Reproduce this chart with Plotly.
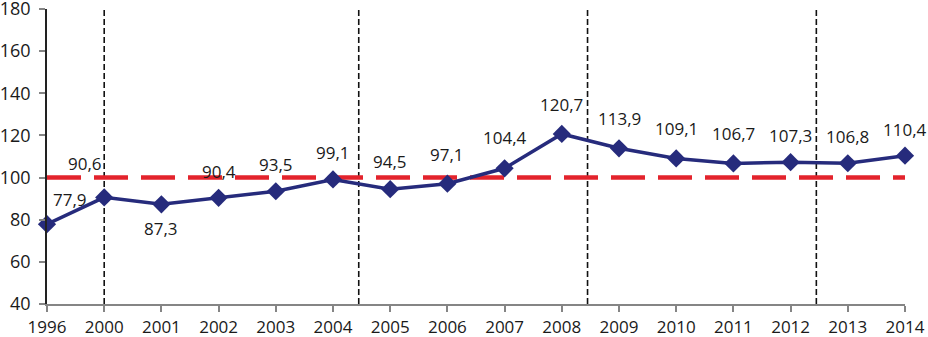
import plotly.graph_objects as go

years = ["1996", "2000", "2001", "2002", "2003", "2004", "2005", "2006",
         "2007", "2008", "2009", "2010", "2011", "2012", "2013", "2014"]
values = [77.9, 90.6, 87.3, 90.4, 93.5, 99.1, 94.5, 97.1,
          104.4, 120.7, 113.9, 109.1, 106.7, 107.3, 106.8, 110.4]
reference_level = 100
period_breaks = [1, 5.45, 9.45, 13.45]
y_ticks = [40, 60, 80, 100, 120, 140, 160, 180]

# label offsets (pixels) for data labels
label_dx = [23, -19, 0, 0, 0, 0, 0, 0, 0, 0, 0, 0, 0, 0, 0, 0]
label_dy = [25, 34, -24, 26, 27, 27, 28, 29, 31, 29, 30, 30, 30, 27, 27, 26]

FONT = "'Open Sans', sans-serif"
NAVY = "#262B7C"
RED = "#E3232C"
TXT = "#1a1a1a"

x = list(range(len(years)))

fig = go.Figure()
fig.add_trace(go.Scatter(
    x=x, y=values, mode="lines+markers",
    line=dict(color=NAVY, width=3.5),
    marker=dict(symbol="diamond", size=14, color=NAVY),
    cliponaxis=False, showlegend=False, hoverinfo="skip",
))

# reference line at 100
fig.add_shape(type="line", xref="x", yref="y", x0=0, x1=len(years) - 1,
              y0=reference_level, y1=reference_level,
              line=dict(color=RED, width=4.5, dash="34px,13px"), layer="below")

for b in period_breaks:
    fig.add_shape(type="line", xref="x", yref="paper", x0=b, x1=b, y0=0, y1=1,
                  line=dict(color="#111111", width=1.6, dash="6px,3px"), layer="below")

annotations = []
for i, v in enumerate(values):
    annotations.append(dict(
        x=i, y=v, xref="x", yref="y",
        text=f"{v:.1f}".replace(".", ","),
        showarrow=False, xanchor="center", yanchor="middle",
        xshift=label_dx[i], yshift=label_dy[i],
        font=dict(family=FONT, size=17, color=TXT),
    ))

fig.update_layout(
    width=928, height=337,
    margin=dict(l=47, r=23, t=9, b=33, autoexpand=False),
    paper_bgcolor="white", plot_bgcolor="white",
    annotations=annotations,
    font=dict(family=FONT, size=17, color=TXT),
    xaxis=dict(
        range=[0, len(years) - 1], tickmode="array", tickvals=x, ticktext=years,
        showgrid=False, zeroline=False, showline=True, linecolor="#858585", linewidth=1.5,
        ticks="outside", ticklen=6, tickcolor="#858585", tickwidth=1.5,
        tickfont=dict(family=FONT, size=17, color=TXT),
        automargin=False, ticklabeloverflow="allow", ticklabelstandoff=1,
    ),
    yaxis=dict(
        range=[40, 180], tickmode="array", tickvals=y_ticks,
        showgrid=False, zeroline=False, showline=True, linecolor="#222222", linewidth=1.5,
        ticks="outside", ticklen=6, tickcolor="#858585", tickwidth=1.5,
        tickfont=dict(family=FONT, size=18, color=TXT),
        automargin=False, ticklabeloverflow="allow", ticklabelstandoff=5,
    ),
)

fig.write_html(
    "out.html",
    config={"displayModeBar": False},
    post_script="document.body.style.margin='0';document.body.style.overflow='hidden';",
)
